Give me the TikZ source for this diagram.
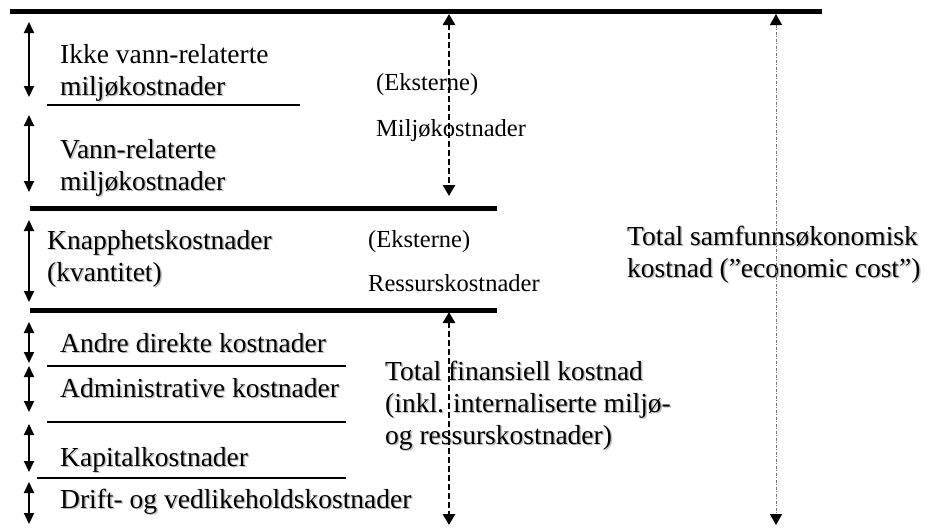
\documentclass[tikz,border=0pt]{standalone}
\usepackage{fontspec}
\setmainfont{Liberation Serif}
\usetikzlibrary{arrows.meta}
\newcommand\shd[1]{\leavevmode\rlap{\kern1.5pt\raisebox{-1.5pt}{\textcolor{black!25}{#1}}}#1}
\tikzset{
  thickrule/.style={line width=5pt},
  thinrule/.style={line width=1.6pt},
  solidarr/.style={line width=2pt,{Triangle[width=10pt,length=11pt]}-{Triangle[width=10pt,length=11pt]}},
  dasharr/.style={line width=2.6pt,dash pattern=on 6pt off 3pt,{Triangle[width=12pt,length=11pt]}-{Triangle[width=12pt,length=11pt]}},
  grayarr/.style={line width=0.8pt,draw=black!55,dash pattern=on 3pt off 1.5pt on 1pt off 1.5pt,{Triangle[width=12pt,length=11pt,color=black]}-{Triangle[width=12pt,length=11pt,color=black]}},
  big/.style={font=\fontsize{27.5}{32}\selectfont,inner sep=0pt,anchor=base west,align=left},
  small/.style={font=\fontsize{24.5}{28}\selectfont,inner sep=0pt,anchor=base west},
}
\begin{document}
\begin{tikzpicture}[x=1pt,y=-1pt]
\useasboundingbox (0,0) rectangle (930,531);
% rules
\coordinate (t1) at (10,11);  \coordinate (t2) at (822,11);
\coordinate (m1) at (30,208); \coordinate (m2) at (497,208);
\coordinate (b1) at (30,310); \coordinate (b2) at (497,310);
\draw[thickrule] (t1) -- (t2);
\draw[thickrule] (m1) -- (m2);
\draw[thickrule] (b1) -- (b2);
\coordinate (r1a) at (47,105);  \coordinate (r1b) at (300,105);
\coordinate (r2a) at (47,366);  \coordinate (r2b) at (346,366);
\coordinate (r3a) at (47,422);  \coordinate (r3b) at (346,422);
\coordinate (r4a) at (37,478);  \coordinate (r4b) at (346,478);
\draw[thinrule] (r1a) -- (r1b);
\draw[thinrule] (r2a) -- (r2b);
\draw[thinrule] (r3a) -- (r3b);
\draw[thinrule] (r4a) -- (r4b);
% left solid arrows
\coordinate (a1t) at (29,22);  \coordinate (a1b) at (29,97);
\coordinate (a2t) at (29,115); \coordinate (a2b) at (29,192);
\coordinate (a3t) at (29,220); \coordinate (a3b) at (29,302);
\coordinate (a4t) at (29,322); \coordinate (a4b) at (29,363);
\coordinate (a5t) at (29,366); \coordinate (a5b) at (29,412);
\coordinate (a6t) at (29,424); \coordinate (a6b) at (29,472);
\coordinate (a7t) at (29,482); \coordinate (a7b) at (29,524);
\draw[solidarr] (a1t) -- (a1b);
\draw[solidarr] (a2t) -- (a2b);
\draw[solidarr] (a3t) -- (a3b);
\draw[solidarr] (a4t) -- (a4b);
\draw[solidarr] (a5t) -- (a5b);
\draw[solidarr] (a6t) -- (a6b);
\draw[solidarr] (a7t) -- (a7b);
% text (multi-line nodes placed by the baseline of their last line)
\node[big] (ikke) at (60,95) {Ikke vann-relaterte\\\shd{miljøkostnader}};
\node[big] (vann) at (60,190) {\shd{Vann-relaterte}\\\shd{miljøkostnader}};
\node[small] (eks1) at (376,90) {(Eksterne)};
\node[small] (milj) at (376,136) {Miljøkostnader};
\node[big] (knapp) at (47,281) {\shd{Knapphetskostnader}\\\shd{(kvantitet)}};
\node[small] (eks2) at (368,247) {(Eksterne)};
\node[small] (ress) at (368,291) {Ressurskostnader};
\node[big] (total) at (627,277) {\shd{Total samfunnsøkonomisk}\\\shd{kostnad (”economic cost”)}};
\node[big] (andre) at (60,352) {\shd{Andre direkte kostnader}};
\node[big] (admin) at (60,397) {\shd{Administrative kostnader}};
\node[big] (fin) at (385,444) {\shd{Total finansiell kostnad}\\\shd{(inkl. internaliserte miljø-}\\\shd{og ressurskostnader)}};
\node[big] (kap) at (60,466) {\shd{Kapitalkostnader}};
\node[big] (drift) at (60,508) {\shd{Drift- og vedlikeholdskostnader}};
% dashed arrows
\coordinate (d1t) at (449,14);  \coordinate (d1b) at (449,196);
\coordinate (d2t) at (449,312); \coordinate (d2b) at (449,525);
\coordinate (d3t) at (776,14);  \coordinate (d3b) at (776,525);
\draw[dasharr] (d1t) -- (d1b);
\draw[dasharr] (d2t) -- (d2b);
\draw[grayarr] (d3t) -- (d3b);
\end{tikzpicture}
\end{document}
